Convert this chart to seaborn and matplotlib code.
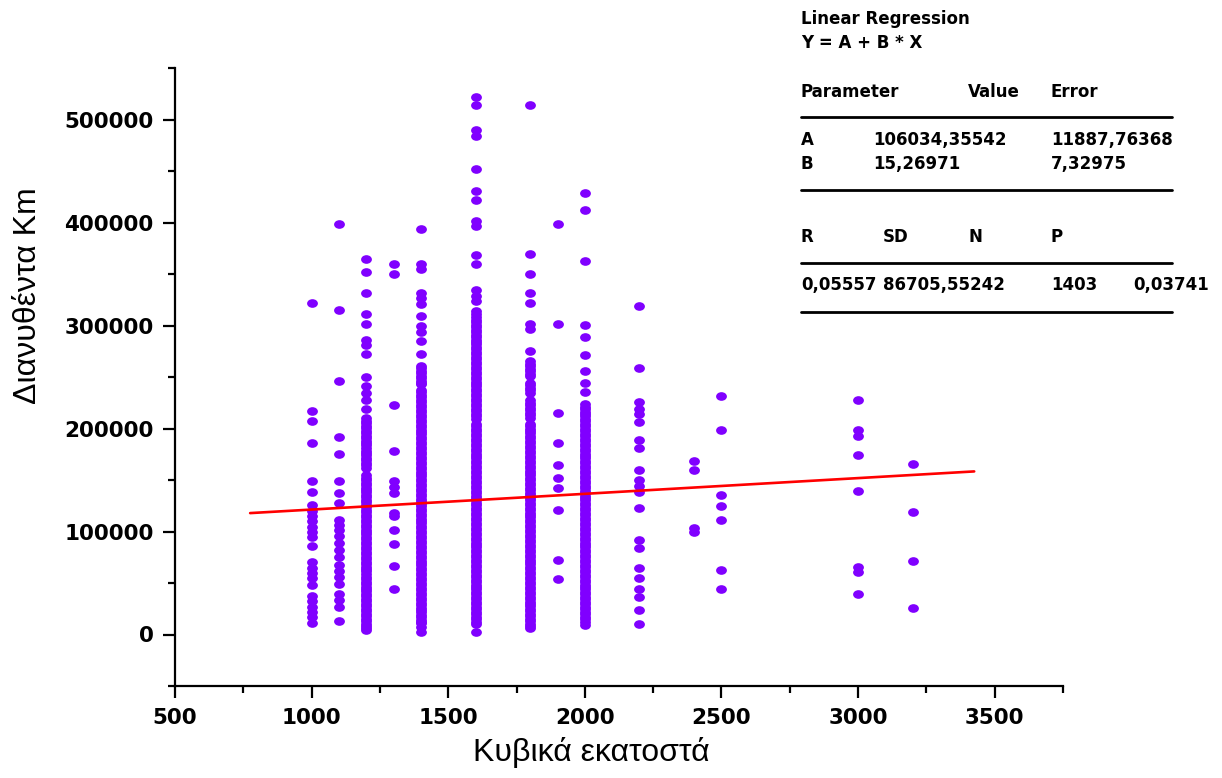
import numpy as np
import pandas as pd
import matplotlib
matplotlib.use("Agg")
import matplotlib.pyplot as plt
from matplotlib.lines import Line2D
from matplotlib.markers import MarkerStyle
from matplotlib.transforms import Affine2D
from matplotlib.ticker import MultipleLocator, FuncFormatter
import seaborn as sns

# Engine size groups (cc) and distance travelled per car (thousand km)
cc_levels = [1000, 1100, 1200, 1300, 1400, 1600, 1800, 1900, 2000, 2200, 2400, 2500, 3000, 3200]

km_1000 = [322.2, 216.8, 207.2, 185.7, 149.5, 138.2, 125.3, 120.2, 115.0, 109.8, 104.7, 99.5,
           94.3, 85.6, 70.1, 64.9, 59.8, 54.6, 47.7, 37.3, 32.1, 27.0, 21.8, 16.6, 11.5]
km_1100 = [398.1, 315.3, 246.2, 191.7, 175.4, 149.5, 137.5, 127.8, 111.5, 106.4, 101.2, 96.0,
           89.1, 82.2, 75.3, 67.7, 62.1, 56.3, 49.4, 39.0, 33.2, 27.0, 13.2]
km_1200 = [364.3, 351.5, 331.8, 310.7, 301.4, 285.8, 280.7, 272.0, 249.6, 241.0, 234.1, 227.2,
           218.6, 209.9, 207.4, 205.1, 202.6, 200.2, 197.9, 195.4, 193.0, 190.7, 188.2, 185.8,
           183.5, 181.0, 178.6, 176.3, 173.8, 171.4, 169.1, 166.6, 164.2, 161.6, 154.7, 152.3,
           149.9, 147.5, 145.1, 142.7, 140.3, 137.9, 135.5, 133.1, 130.7, 128.3, 125.9, 123.5,
           121.1, 118.7, 116.3, 113.9, 111.5, 109.1, 106.7, 104.3, 101.9, 99.5, 97.1, 94.7,
           92.3, 89.9, 87.5, 85.1, 82.7, 80.3, 77.9, 75.5, 73.1, 70.7, 68.3, 65.9, 63.5, 61.5,
           58.6, 56.2, 53.8, 51.4, 49.0, 46.6, 44.2, 41.8, 39.4, 37.0, 34.6, 32.2, 29.8, 27.4,
           25.0, 22.6, 20.2, 17.8, 15.4, 13.0, 10.6, 8.2, 6.0, 4.6]
km_1300 = [360.1, 350.4, 222.5, 178.5, 148.8, 143.2, 137.0, 117.6, 114.6, 101.8, 87.6, 66.5, 44.2]
km_1400 = [393.7, 360.1, 355.0, 331.8, 326.6, 321.1, 309.7, 300.0, 293.5, 284.5, 272.5, 261.0,
           258.6, 256.2, 253.8, 251.4, 249.0, 246.6, 244.2, 243.0, 237.4, 235.0, 232.6, 230.2,
           227.8, 225.4, 223.0, 220.6, 218.2, 215.8, 213.4, 211.0, 208.6, 206.2, 203.8, 201.4,
           199.0, 196.6, 194.2, 191.8, 189.4, 187.0, 184.6, 182.2, 179.8, 177.4, 175.0, 172.6,
           170.2, 167.8, 165.4, 163.0, 160.6, 158.2, 155.8, 153.4, 151.0, 148.6, 146.2, 143.8,
           141.4, 139.0, 136.6, 134.2, 131.8, 129.4, 127.0, 124.6, 122.2, 119.8, 117.4, 115.0,
           112.6, 110.2, 107.8, 105.4, 103.0, 100.6, 98.2, 95.8, 93.4, 91.0, 88.6, 86.2, 83.8,
           81.4, 79.0, 76.6, 74.2, 71.8, 69.4, 67.0, 64.6, 62.2, 59.8, 57.4, 55.0, 52.6, 50.2,
           47.8, 45.4, 43.0, 40.6, 38.2, 35.8, 33.4, 31.0, 28.6, 26.2, 23.8, 21.4, 19.0, 16.6,
           14.2, 11.8, 10.7, 7.0, 2.0]
km_1600 = [522.3, 513.7, 489.5, 484.4, 451.6, 430.9, 422.3, 401.6, 396.3, 368.7, 360.1, 334.2,
           329.0, 323.9, 314.5, 311.6, 308.0, 305.6, 303.2, 300.8, 298.4, 296.0, 293.6, 291.2,
           288.8, 286.4, 284.0, 281.6, 279.2, 276.8, 274.4, 272.0, 269.6, 267.2, 264.8, 262.4,
           260.0, 257.6, 255.2, 252.8, 250.4, 248.0, 245.6, 243.2, 240.8, 238.4, 236.0, 233.6,
           231.2, 228.8, 226.4, 224.0, 221.6, 219.2, 216.8, 214.4, 212.0, 209.6, 204.5, 202.1,
           199.7, 197.3, 194.9, 192.5, 190.1, 187.7, 185.3, 182.9, 180.5, 178.1, 175.7, 173.3,
           170.9, 168.5, 166.1, 163.7, 161.3, 158.9, 156.5, 154.1, 151.7, 149.3, 146.9, 144.5,
           142.1, 139.7, 137.3, 134.9, 132.5, 130.1, 127.7, 125.3, 122.9, 120.5, 118.1, 115.7,
           113.3, 110.9, 108.5, 106.1, 103.7, 101.3, 98.9, 96.5, 94.1, 91.7, 89.3, 86.9, 84.5,
           82.1, 79.7, 77.3, 74.9, 72.5, 70.1, 67.7, 65.3, 62.9, 60.5, 58.1, 55.7, 53.3, 50.9,
           48.5, 46.1, 43.7, 41.3, 38.9, 36.5, 34.1, 31.7, 29.3, 26.9, 24.5, 22.1, 19.7, 17.3,
           14.9, 12.5, 10.4, 2.2]
km_1800 = [513.7, 369.7, 350.4, 331.5, 322.2, 301.4, 296.2, 274.9, 265.2, 262.8, 260.4, 258.0,
           255.6, 253.2, 251.4, 244.5, 242.1, 239.7, 237.3, 234.9, 227.2, 224.8, 222.4, 220.0,
           217.6, 215.2, 212.8, 210.4, 204.8, 202.4, 200.0, 197.6, 195.2, 192.8, 190.4, 188.0,
           185.6, 183.2, 180.8, 178.4, 176.0, 173.6, 171.2, 168.8, 166.4, 164.0, 161.6, 159.2,
           156.8, 154.4, 152.0, 149.6, 147.2, 144.8, 142.4, 140.0, 137.6, 135.2, 132.8, 130.4,
           128.0, 125.6, 123.2, 120.8, 118.4, 116.0, 113.6, 111.2, 108.8, 106.4, 104.0, 101.6,
           99.2, 96.8, 94.4, 92.0, 89.6, 87.2, 84.8, 82.4, 80.0, 77.6, 75.2, 72.8, 70.4, 68.0,
           65.6, 63.2, 60.8, 58.4, 56.0, 53.6, 51.2, 48.8, 46.4, 44.0, 41.6, 39.2, 36.8, 34.4,
           32.0, 29.6, 27.2, 24.8, 22.4, 20.0, 17.6, 15.2, 12.8, 10.4, 8.0, 6.2]
km_1900 = [398.7, 301.4, 215.1, 185.7, 164.4, 151.9, 142.6, 120.9, 72.5, 53.6]
km_2000 = [428.5, 412.6, 362.5, 300.4, 289.3, 271.4, 255.5, 244.5, 235.2, 223.7, 221.3, 218.9,
           216.5, 214.1, 211.7, 209.3, 206.9, 204.5, 202.1, 199.7, 197.3, 194.9, 192.5, 190.1,
           187.7, 185.3, 182.9, 180.5, 178.1, 175.7, 173.3, 170.9, 168.5, 166.1, 163.7, 161.3,
           158.9, 156.5, 154.1, 151.7, 149.3, 146.9, 144.5, 142.1, 139.7, 137.3, 134.9, 132.5,
           130.1, 127.7, 125.3, 122.9, 120.5, 118.1, 115.7, 113.3, 110.9, 108.5, 106.1, 103.7,
           101.3, 98.9, 96.5, 94.1, 91.7, 89.3, 86.9, 84.5, 82.1, 79.7, 77.3, 74.9, 72.5, 70.1,
           67.7, 65.3, 62.9, 60.5, 58.1, 55.7, 53.3, 50.9, 48.5, 46.1, 43.7, 41.3, 38.9, 36.5,
           34.1, 31.7, 29.3, 26.9, 24.5, 22.1, 19.7, 17.3, 14.9, 12.5, 9.7]
km_2200 = [318.5, 258.6, 225.6, 219.1, 214.2, 206.2, 189.0, 181.3, 159.9, 150.2, 143.7, 138.2,
           122.6, 91.9, 84.2, 64.7, 54.7, 44.3, 36.2, 24.0, 10.4]
km_2400 = [168.2, 159.9, 103.2, 99.4]
km_2500 = [231.4, 198.1, 135.0, 124.3, 110.7, 62.8, 44.3]
km_3000 = [227.8, 198.7, 193.2, 174.4, 139.8, 66.0, 60.5, 39.5]
km_3200 = [165.7, 118.8, 70.9, 26.2]

km_groups = [km_1000, km_1100, km_1200, km_1300, km_1400, km_1600, km_1800,
             km_1900, km_2000, km_2200, km_2400, km_2500, km_3000, km_3200]

# Linear regression Y = A + B * X (fitted line span in cc)
reg_A = 106034.35542
reg_B = 15.26971
reg_x = [775, 3425]

table_title = ["Linear Regression", "Y = A + B * X"]
param_header = ["Parameter", "Value", "Error"]
param_rows = [["A", "106034,35542", "11887,76368"],
              ["B", "15,26971", "7,32975"]]
stat_header = ["R", "SD", "N", "P"]
stat_values = ["0,05557", "86705,55242", "1403", "0,03741"]

df = pd.DataFrame(
    [(cc, v * 1000.0) for cc, vals in zip(cc_levels, km_groups) for v in vals],
    columns=["cc", "km"],
)
reg_df = pd.DataFrame({"cc": reg_x, "km": [reg_A + reg_B * x for x in reg_x]})

sns.set_style("ticks")
plt.rcParams["font.family"] = ["DejaVu Sans"]

W, H = 1222, 778
fig = plt.figure(figsize=(W / 100, H / 100), dpi=100)
ax = fig.add_axes([175 / W, 1 - 686 / H, (1063 - 175) / W, (686 - 68) / H])

dot = MarkerStyle("o", transform=Affine2D().scale(1.15, 0.92))
sns.scatterplot(data=df, x="cc", y="km", ax=ax, color="#8000ff", s=46,
                marker=dot, linewidth=0, zorder=2, legend=False)
sns.lineplot(data=reg_df, x="cc", y="km", ax=ax, color="#ff0000",
             linewidth=1.9, zorder=3, legend=False)

ax.set_xlim(500, 3750)
ax.set_ylim(-50000, 550000)
ax.xaxis.set_major_locator(MultipleLocator(500))
ax.xaxis.set_minor_locator(MultipleLocator(250))
ax.yaxis.set_major_locator(MultipleLocator(100000))
ax.yaxis.set_minor_locator(MultipleLocator(50000))
ax.yaxis.set_major_formatter(FuncFormatter(lambda v, _: f"{v:.0f}"))
ax.xaxis.set_major_formatter(FuncFormatter(lambda v, _: f"{v:.0f}"))

for side in ("top", "right"):
    ax.spines[side].set_visible(False)
for side in ("left", "bottom"):
    ax.spines[side].set_linewidth(1.6)
    ax.spines[side].set_color("black")

ax.tick_params(which="major", length=8.5, width=1.6, direction="out",
               labelsize=15.5, pad=7, colors="black")
ax.tick_params(which="minor", length=5, width=1.6, direction="out", colors="black")
for lab in ax.get_xticklabels() + ax.get_yticklabels():
    lab.set_fontweight("bold")

label_font = dict(fontsize=23, color="black", family=["Liberation Sans", "DejaVu Sans"])
ax.set_xlabel("Κυβικά εκατοστά", **label_font)
ax.set_ylabel("Διανυθέντα Km", **label_font)
ax.xaxis.set_label_coords((591 - 175) / 888, (686 - 752) / 618)
ax.yaxis.set_label_coords((28 - 175) / 888, (686 - 296) / 618)
ax.xaxis.label.set_va("center")
ax.yaxis.label.set_va("center")


def put(text, x, y):
    fig.text(x / W, 1 - y / H, text, fontsize=12, fontweight="bold",
             ha="left", va="center", color="black")


def rule(y):
    fig.add_artist(Line2D([801 / W, 1172 / W], [1 - y / H, 1 - y / H],
                          color="black", linewidth=2.0, transform=fig.transFigure))


put(table_title[0], 801, 19)
put(table_title[1], 801, 43)
for txt, x in zip(param_header, [801, 968, 1051]):
    put(txt, x, 92)
rule(117)
for row, y in zip(param_rows, [140, 164]):
    for txt, x in zip(row, [801, 873, 1051]):
        put(txt, x, y)
rule(190)
for txt, x in zip(stat_header, [801, 883, 968, 1051]):
    put(txt, x, 237)
rule(263)
for txt, x in zip(stat_values, [801, 883, 1051, 1133]):
    put(txt, x, 285)
rule(312)

fig.savefig("out.png", dpi=100, facecolor="white")
